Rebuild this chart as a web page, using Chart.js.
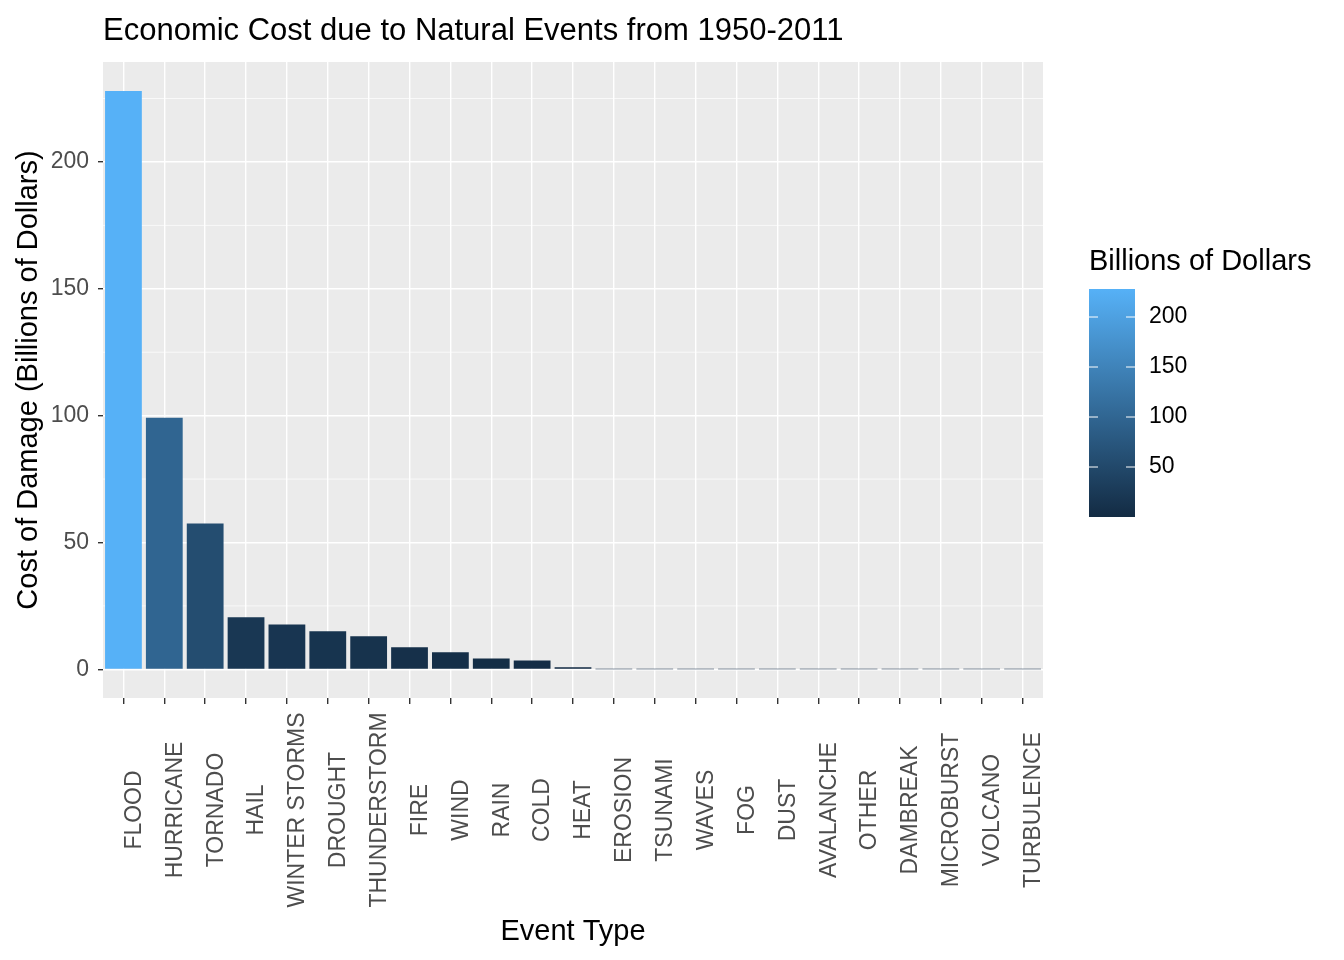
<!DOCTYPE html>
<html><head><meta charset="utf-8">
<script src="https://cdn.jsdelivr.net/npm/chart.js@4"></script>
<style>html,body{margin:0;padding:0;background:#fff}#w{width:1344px;height:960px}</style>
</head><body><div id="w"><canvas id="c"></canvas></div>
<script>
const categories=["FLOOD","HURRICANE","TORNADO","HAIL","WINTER STORMS","DROUGHT","THUNDERSTORM","FIRE","WIND","RAIN","COLD","HEAT","EROSION","TSUNAMI","WAVES","FOG","DUST","AVALANCHE","OTHER","DAMBREAK","MICROBURST","VOLCANO","TURBULENCE"];
const values=[228,99.2,57.5,20.5,17.7,15,13,8.7,6.7,4.3,3.5,0.8,0.05,0.04,0.03,0.03,0.02,0.02,0.01,0.01,0.01,0.005,0.001];
const yTicks=[0,50,100,150,200];
const legendTicks=[50,100,150,200];
const lo=[0x13,0x2B,0x43],hi=[0x56,0xB1,0xF7];
const vmin=Math.min(...values),vmax=Math.max(...values);
function col(v){const t=(v-vmin)/(vmax-vmin);return 'rgb('+lo.map((a,i)=>Math.round(a+(hi[i]-a)*t)).join(',')+')';}
const FONT='"Liberation Sans", Arial, sans-serif';
const deco={id:'deco',
beforeDraw(ch){const {ctx,chartArea:a,scales:{y}}=ch;ctx.save();ctx.fillStyle='#EBEBEB';ctx.fillRect(a.left,a.top,a.right-a.left,a.bottom-a.top);
ctx.strokeStyle='#fff';ctx.lineWidth=0.7;for(let v=25;v<240;v+=50){const p=y.getPixelForValue(v);ctx.beginPath();ctx.moveTo(a.left,p);ctx.lineTo(a.right,p);ctx.stroke();}ctx.restore();},
afterDraw(ch){const ctx=ch.ctx,a=ch.chartArea,x=ch.scales.x;ctx.save();
ctx.fillStyle='#000';ctx.font='31px '+FONT;ctx.textBaseline='alphabetic';ctx.textAlign='left';ctx.fillText('Economic Cost due to Natural Events from 1950-2011',103,40);
ctx.font='29px '+FONT;ctx.fillText('Billions of Dollars',1089,270);
ctx.textAlign='center';ctx.fillText('Event Type',(a.left+a.right)/2,940);
ctx.font='23px '+FONT;ctx.fillStyle='#4D4D4D';ctx.textBaseline='middle';
categories.forEach((c,i)=>{const px=x.getPixelForValue(i);ctx.save();ctx.translate(px+11,810);ctx.rotate(-Math.PI/2);ctx.fillText(c,0,0);ctx.restore();});
const x0=1089,w=46,top=289,bot=517,ppu=(bot-top)/(vmax-vmin);
const g=ctx.createLinearGradient(0,bot,0,top);g.addColorStop(0,col(vmin));g.addColorStop(1,col(vmax));ctx.fillStyle=g;ctx.fillRect(x0,top,w,bot-top);
ctx.textAlign='left';ctx.fillStyle='#000';
legendTicks.forEach(v=>{const p=bot-(v-vmin)*ppu;ctx.strokeStyle='#fff';ctx.lineWidth=1;ctx.beginPath();ctx.moveTo(x0,p);ctx.lineTo(x0+9,p);ctx.moveTo(x0+w-9,p);ctx.lineTo(x0+w,p);ctx.stroke();ctx.fillText(String(v),x0+w+14,p);});
ctx.restore();}};
new Chart(document.getElementById('c'),{type:'bar',
data:{labels:categories,datasets:[{data:values,backgroundColor:values.map(col),barPercentage:0.9,categoryPercentage:1}]},
options:{responsive:true,maintainAspectRatio:false,animation:false,
layout:{padding:{top:62,right:301,left:0,bottom:0}},
plugins:{legend:{display:false},tooltip:{enabled:false}},
scales:{
x:{afterFit(s){s.height=262;},grid:{color:'#fff',lineWidth:1.4,offset:false,tickColor:'#333',tickLength:6},border:{display:false},
ticks:{display:false}},
y:{min:-11.3,max:239.4,afterBuildTicks(s){s.ticks=yTicks.map(v=>({value:v}));},afterFit(s){s.width=103;},
grid:{color:'#fff',lineWidth:1.4,tickColor:'#333',tickLength:5},border:{display:false},
ticks:{color:'#4D4D4D',font:{family:FONT,size:23},padding:9},
title:{display:true,text:'Cost of Damage (Billions of Dollars)',color:'#000',font:{family:FONT,size:29},padding:{top:12,bottom:0}}}}},
plugins:[deco]});
</script></body></html>
